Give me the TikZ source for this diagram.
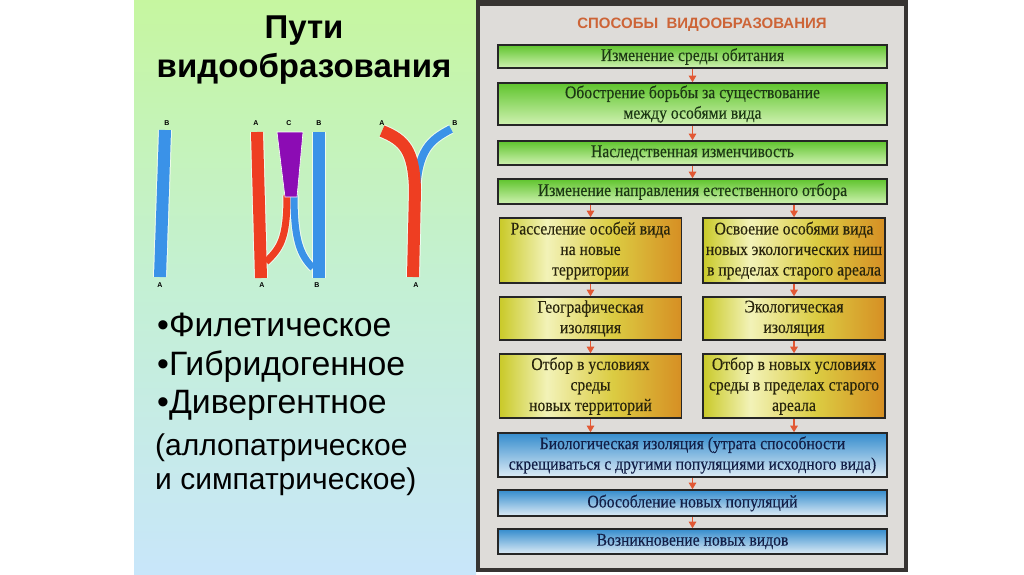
\documentclass[tikz,border=0pt]{standalone}
\usepackage{fontspec}
\setmainfont{Liberation Serif}
\newfontfamily\arial{Liberation Sans}
\newfontfamily\posterfont[FakeStretch=0.88,FakeBold=0.3]{Liberation Serif}
\usetikzlibrary{positioning,arrows.meta}

\definecolor{sidegreen}{RGB}{198,246,160}
\definecolor{sidemid}{RGB}{196,240,212}
\definecolor{sideblue}{RGB}{200,230,250}
\definecolor{barblue}{RGB}{58,146,232}
\definecolor{barred}{RGB}{238,62,34}
\definecolor{barpurple}{RGB}{140,12,180}
\definecolor{posterbg}{RGB}{222,220,217}
\definecolor{posterframe}{RGB}{55,52,50}
\definecolor{headorange}{RGB}{205,100,55}
\definecolor{arrowred}{RGB}{226,88,52}
\definecolor{boxgreen}{RGB}{95,196,45}
\definecolor{boxgreenlt}{RGB}{208,242,178}
\definecolor{boxblue}{RGB}{52,140,205}
\definecolor{boxbluelt}{RGB}{222,236,246}
\definecolor{inkgreen}{RGB}{28,55,20}
\definecolor{inkbrown}{RGB}{40,36,12}
\definecolor{inkblue}{RGB}{18,30,70}

\pgfdeclarehorizontalshading{yelshade}{100bp}{%
  rgb(0bp)=(0.79,0.79,0.16); rgb(25bp)=(0.79,0.79,0.16);
  rgb(38bp)=(0.95,0.95,0.72); rgb(56bp)=(0.86,0.80,0.26);
  rgb(75bp)=(0.84,0.56,0.14); rgb(100bp)=(0.84,0.56,0.14)}

\tikzset{
  panel/.style={draw=black!85, line width=1.6pt, align=center, inner sep=0pt,
    font=\posterfont\fontsize{17.8}{20.5}\selectfont},
  greenbox/.style={panel, top color=boxgreen, bottom color=boxgreenlt,
    text=inkgreen, minimum width=389pt},
  yellowbox/.style={panel, shading=yelshade, text=inkbrown, minimum width=182pt},
  bluebox/.style={panel, top color=boxblue, bottom color=boxbluelt,
    text=inkblue, minimum width=389pt},
  flow/.style={arrowred, line width=1.2pt, -{Triangle[width=7.5pt,length=6.5pt]}},
  tag/.style={font=\arial\bfseries\fontsize{7}{7}\selectfont, inner sep=0pt},
  halo/.style={white, opacity=0.7},
}

\begin{document}
\begin{tikzpicture}[x=1pt,y=-1pt]

\useasboundingbox (0,0) rectangle (1024,574);

% left panel
\shade[top color=sidegreen, bottom color=sideblue, middle color=sidemid]
  (134,0) rectangle (476,574);
\node (title) [font=\arial\bfseries\fontsize{33}{39}\selectfont, align=center]
  at (304,50) {Пути\\видообразования};

% \draw phyletic
\draw[halo, line width=14pt] (165,130) -- (160,277);
\draw[barblue, line width=12pt] (165,130) -- (160,277);
\node[tag] (p1top) at (167,123) {B};
\node[tag] (p1bot) at (160,285) {A};

% \draw hybridogenic
\draw[halo, line width=9pt] (287,195) .. controls (287,240) and (280,248) .. (266,262);
\draw[halo, line width=9pt] (294,195) .. controls (294,240) and (300,255) .. (313,268);
\draw[halo, line width=14pt] (257,132) -- (261,278);
\draw[halo, line width=14pt] (319,132) -- (319,278);
\draw[barred, line width=7pt] (287,195) .. controls (287,240) and (280,248) .. (266,262);
\draw[barblue, line width=7pt] (294,195) .. controls (294,240) and (300,255) .. (313,268);
\draw[barred, line width=12pt] (257,132) -- (261,278);
\draw[barblue, line width=12pt] (319,132) -- (319,278);
\fill[barpurple, draw=white, line width=0.6pt]
  (277,132) -- (303,132) -- (297,197) -- (285,197) -- cycle;
\node[tag] (p2a) at (256,123) {A};
\node[tag] (p2c) at (289,123) {C};
\node[tag] (p2b) at (319,123) {B};
\node[tag] (p2abot) at (262,285) {A};
\node[tag] (p2bbot) at (317,285) {B};

% \draw divergent
\draw[halo, line width=10pt] (416,192) .. controls (418,150) and (430,140) .. (451,129);
\draw[halo, line width=14pt] (413,277) -- (415,190) .. controls (414,150) and (404,140) .. (382,131);
\draw[barblue, line width=8pt] (416,192) .. controls (418,150) and (430,140) .. (451,129);
\draw[barred, line width=12pt] (413,277) -- (415,190) .. controls (414,150) and (404,140) .. (382,131);
\node[tag] (p3a) at (382,123) {A};
\node[tag] (p3b) at (455,123) {B};
\node[tag] (p3bot) at (416,285) {A};

% list of ways
\node (ways) [anchor=north west, align=left, inner sep=0pt,
  font=\arial\fontsize{33.8}{38.5}\selectfont] at (157,313)
  {•Филетическое\\•Гибридогенное\\•Дивергентное};
\node (waynote) [anchor=north west, align=left, inner sep=0pt,
  font=\arial\fontsize{30}{34}\selectfont] at (155,434)
  {(аллопатрическое\\и симпатрическое)};

% right poster
\fill[posterframe] (476,0) rectangle (908,572);
\fill[posterbg] (480,6) rectangle (904,568);
\node (head) [text=headorange, font=\arial\bfseries\fontsize{15}{15}\selectfont]
  at (702,25) {СПОСОБЫ\ \ ВИДООБРАЗОВАНИЯ};

\node[greenbox, minimum height=23pt] (g1) at (692.5,56.5) {Изменение среды обитания};
\node[greenbox, minimum height=42pt] (g2) at (692.5,104)
  {Обострение борьбы за существование\\между особями вида};
\node[greenbox, minimum height=24pt] (g3) at (692.5,153) {Наследственная изменчивость};
\node[greenbox, minimum height=25pt] (g4) at (692.5,191.5)
  {Изменение направления естественного отбора};

\node[yellowbox, minimum height=65pt] (y1l) at (590.5,250.5)
  {Расселение особей вида\\на новые\\территории};
\node[yellowbox, minimum height=65pt] (y1r) at (794,250.5)
  {Освоение особями вида\\новых экологических ниш\\в пределах старого ареала};
\node[yellowbox, minimum height=43pt] (y2l) at (590.5,318.5)
  {Географическая\\изоляция};
\node[yellowbox, minimum height=43pt] (y2r) at (794,318.5)
  {Экологическая\\изоляция};
\node[yellowbox, minimum height=64pt] (y3l) at (590.5,386)
  {Отбор в условиях\\среды\\новых территорий};
\node[yellowbox, minimum height=64pt] (y3r) at (794,386)
  {Отбор в новых условиях\\среды в пределах старого\\ареала};

\node[bluebox, minimum height=44pt] (b1) at (692.5,455)
  {Биологическая изоляция (утрата способности\\скрещиваться с другими популяциями исходного вида)};
\node[bluebox, minimum height=26pt] (b2) at (692.5,503) {Обособление новых популяций};
\node[bluebox, minimum height=25pt] (b3) at (692.5,541.5) {Возникновение новых видов};

% \draw arrows
\draw[flow] (g1) -- (g2);
\draw[flow] (g2) -- (g3);
\draw[flow] (g3) -- (g4);
\draw[flow] (g4.south -| y1l) -- (y1l);
\draw[flow] (g4.south -| y1r) -- (y1r);
\foreach \side in {l,r} {
  \draw[flow] (y1\side) -- (y2\side);
  \draw[flow] (y2\side) -- (y3\side);
  \draw[flow] (y3\side) -- (b1.north -| y3\side);
}
\draw[flow] (b1) -- (b2);
\draw[flow] (b2) -- (b3);

\end{tikzpicture}
\end{document}
